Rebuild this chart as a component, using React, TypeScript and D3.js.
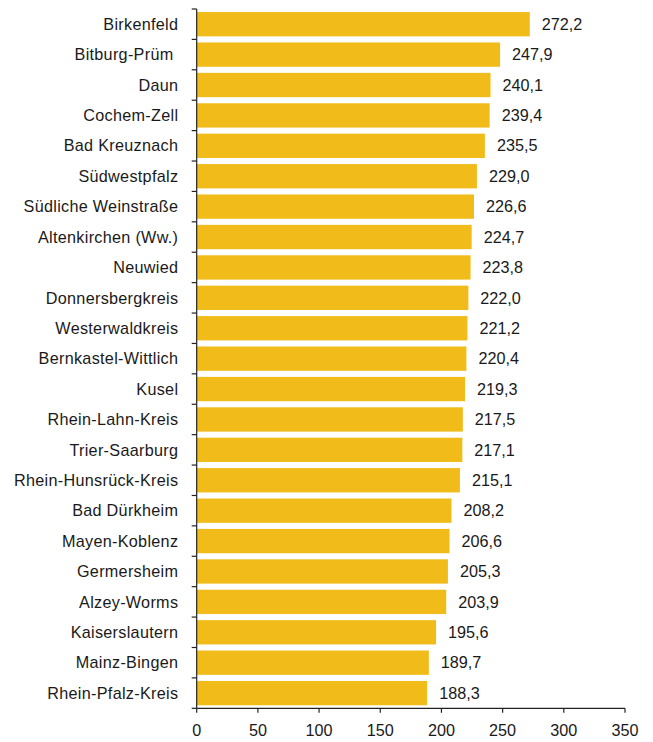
import React from "react";
import * as d3 from "d3";

const categories = [
  "Birkenfeld", "Bitburg-Prüm ", "Daun", "Cochem-Zell", "Bad Kreuznach", "Südwestpfalz",
  "Südliche Weinstraße", "Altenkirchen (Ww.)", "Neuwied", "Donnersbergkreis", "Westerwaldkreis",
  "Bernkastel-Wittlich", "Kusel", "Rhein-Lahn-Kreis", "Trier-Saarburg", "Rhein-Hunsrück-Kreis",
  "Bad Dürkheim", "Mayen-Koblenz", "Germersheim", "Alzey-Worms", "Kaiserslautern", "Mainz-Bingen",
  "Rhein-Pfalz-Kreis",
];
const values = [
  272.2, 247.9, 240.1, 239.4, 235.5, 229.0, 226.6, 224.7, 223.8, 222.0, 221.2, 220.4, 219.3,
  217.5, 217.1, 215.1, 208.2, 206.6, 205.3, 203.9, 195.6, 189.7, 188.3,
];
const xTicks = [0, 50, 100, 150, 200, 250, 300, 350];

const W = 653, H = 742;
const font = "'Liberation Sans', Arial, Helvetica, sans-serif";
const fs = 16.2;
const fmt = (v: number) => v.toFixed(1).replace(".", ",");

export default function App() {
  const x = d3.scaleLinear().domain([0, 350]).range([196.7, 625]);
  const y = d3.scaleBand<string>().domain(categories).range([9, 708.3]).paddingInner(0.2).paddingOuter(0.1);
  const step = y.step();
  const boundaries = d3.range(categories.length + 1).map((i) => 9 + i * step);
  const axisY = 708.3;
  const axisColor = "#222";
  return (
    <svg width={W} height={H} style={{ position: "absolute", left: 0, top: 0, background: "#fff" }}>
      {categories.map((c, i) => (
        <g key={c}>
          <rect x={x(0)} y={y(c)!} width={x(values[i]) - x(0)} height={y.bandwidth()} fill="#F1BC1A" />
          <text x={x(values[i]) + 12} y={y(c)! + y.bandwidth() / 2} dy="0.35em" fontFamily={font} fontSize={fs} fill="#1a1a1a">
            {fmt(values[i])}
          </text>
          <text x={178.3} y={y(c)! + y.bandwidth() / 2} dy="0.35em" textAnchor="end" fontFamily={font} fontSize={fs}
            letterSpacing={0.3} fill="#1a1a1a" style={{ whiteSpace: "pre" }}>
            {c}
          </text>
        </g>
      ))}
      <line x1={x(0)} x2={x(0)} y1={9} y2={axisY} stroke={axisColor} strokeWidth={1.2} />
      {boundaries.map((b, i) => (
        <line key={i} x1={x(0) - 5} x2={x(0)} y1={b} y2={b} stroke={axisColor} strokeWidth={1.2} />
      ))}
      <line x1={x(0)} x2={x(350)} y1={axisY} y2={axisY} stroke={axisColor} strokeWidth={1.2} />
      {xTicks.map((t) => (
        <g key={t}>
          <line x1={x(t)} x2={x(t)} y1={axisY} y2={axisY + 4.5} stroke={axisColor} strokeWidth={1.2} />
          <text x={x(t)} y={axisY + 22} dy="0.35em" textAnchor="middle" fontFamily={font} fontSize={fs} fill="#1a1a1a">
            {t}
          </text>
        </g>
      ))}
    </svg>
  );
}
